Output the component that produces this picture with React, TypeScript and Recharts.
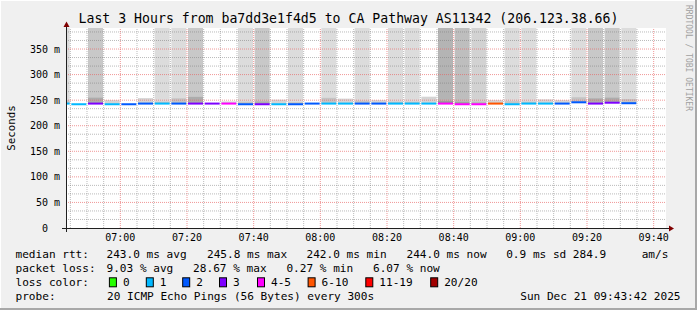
import React from 'react';
import { ComposedChart, Bar, XAxis, YAxis, Cell, ReferenceLine } from 'recharts';

// ---- data (minutes since 06:00, 5-minute smokeping intervals) ----
const intervalStartMin = [40, 45, 50, 55, 60, 65, 70, 75, 80, 85, 90, 95, 100, 105, 110, 115, 120, 125, 130, 135, 140, 145, 150, 155, 160, 165, 170, 175, 180, 185, 190, 195, 200, 205, 210];
const medianMs = [243.3, 242.0, 243.3, 242.0, 242.0, 243.3, 243.3, 243.3, 243.3, 243.3, 243.3, 242.0, 242.0, 242.0, 242.0, 243.3, 243.3, 243.3, 243.3, 243.3, 243.3, 243.3, 243.3, 243.3, 242.0, 242.0, 243.3, 242.0, 243.3, 243.3, 243.3, 245.8, 243.3, 245.0, 244.0];
const lostPings = [1, 1, 3, 1, 2, 2, 1, 2, 3, 3, 4, 2, 3, 1, 2, 2, 1, 1, 2, 2, 1, 1, 1, 5, 5, 4, 7, 1, 1, 1, 2, 2, 3, 3, 2];
const smokeTopMs = [250, 242.0, 255.5, 250, 242.0, 254, 247, 254, 257, 243.3, 247.5, 247, 248, 251, 246, 243.3, 255, 253, 249, 250, 247, 247, 256.8, 248, 247, 247, 250, 248, 247, 251.6, 250, 256, 254, 255.5, 252];
const slowPings = [2, 0, 4, 0, 0, 0, 2, 2, 4, 0, 0, 2, 4, 0, 2, 0, 2, 0, 2, 0, 2, 2, 0, 6, 5, 3, 0, 2, 2, 0, 0, 2, 4, 4, 2];

const xTickMin = [60, 80, 100, 120, 140, 160, 180, 200, 220];
const xTickLabels = ['07:00', '07:20', '07:40', '08:00', '08:20', '08:40', '09:00', '09:20', '09:40'];
const yTicks = [0, 50, 100, 150, 200, 250, 300, 350];
const yTickLabels = ['0  ', '50 m', '100 m', '150 m', '200 m', '250 m', '300 m', '350 m'];

const titleText = 'Last 3 Hours from ba7dd3e1f4d5 to CA Pathway AS11342 (206.123.38.66)';
const rttStats = ['243.0 ms avg', '245.8 ms max', '242.0 ms min', '244.0 ms now', '0.9 ms sd', '284.9', 'am/s'];
const lossStats = ['9.03 % avg', '28.67 % max', '0.27 % min', '6.07 % now'];
const lossLegendLabels = ['0', '1', '2', '3', '4-5', '6-10', '11-19', '20/20'];
const lossLegendColors = ['#26ff00', '#00b8ff', '#0059ff', '#7e00ff', '#ff00fe', '#ff5500', '#ff0000', '#a10000'];
const probeText = '20 ICMP Echo Pings (56 Bytes) every 300s';
const dateText = 'Sun Dec 21 09:43:42 2025';

// ---- layout ----
const W = 697, H = 310;
const PLOT_L = 66, PLOT_T = 28, PLOT_W = 600, PLOT_H = 200;
const T0 = 43.7, T1 = T0 + 180;
const Y_MAX = 391.1;
const BAR_PX = (5 * PLOT_W) / (T1 - T0);
const MONO = "'DejaVu Sans Mono', monospace";

const lossIndex = (n: number) => (n <= 3 ? n : n <= 5 ? 4 : n <= 10 ? 5 : n <= 19 ? 6 : 7);
// translucent grays so that the grid stays visible through the smoke
const shadeOnWhite = (g: number) => `rgba(0,0,0,${((255 - g) / 255).toFixed(3)})`;
const columnShade = (s: number) => (s > 0 ? shadeOnWhite(220 - 10 * (s - 2)) : 'transparent');
const bandShade = (s: number) => (s > 0 ? shadeOnWhite(196 - 12 * (s - 2)) : shadeOnWhite(212));

const rows = intervalStartMin.map((t, i) => ({
  mid: t + 2.5,
  base: medianMs[i],
  band: smokeTopMs[i] - medianMs[i],
  column: slowPings[i] > 0 ? Y_MAX - smokeTopMs[i] : 0,
  median: medianMs[i],
}));

const minorX: number[] = [];
for (let t = 45; t < T1; t += 5) if (!xTickMin.includes(t)) minorX.push(t);
const minorY: number[] = [];
for (let k = 1; (k * 50) / 3 < Y_MAX; k++) if (k % 3 !== 0) minorY.push((k * 50) / 3);

const MINOR = 'rgba(120,120,120,0.5)';
const MAJOR = 'rgba(232,96,96,0.65)';

const MedianShape = (p: any) => (
  <rect x={p.x} y={p.y - 1} width={p.width} height={2} fill={p.fill} />
);

const XTick = (p: any) => {
  const i = xTickMin.indexOf(p.payload.value);
  return (
    <text x={p.x} y={237.3} textAnchor="middle" dominantBaseline="central" fontFamily={MONO} fontSize={10} fill="#000">
      {i >= 0 ? xTickLabels[i] : ''}
    </text>
  );
};

const YTick = (p: any) => {
  const i = yTicks.indexOf(p.payload.value);
  return (
    <text x={60} y={p.y} textAnchor="end" dominantBaseline="central" fontFamily={MONO} fontSize={10} fill="#000" style={{ whiteSpace: 'pre' }}>
      {i >= 0 ? yTickLabels[i] : ''}
    </text>
  );
};

const rttX = [107, 207.5, 307, 407, 506.7, 573.3, 642.2];
const lossX = [107, 193.6, 286.9, 373.5];
const boxX = [108.9, 145.8, 182.2, 219, 257, 307.6, 365.3, 430.2];
const rowY = [254.7, 268.3, 282.3, 296];

export default function App() {
  return (
    <div style={{ position: 'absolute', left: 0, top: 0, width: W, height: H, background: '#f0f0f0' }}>
      <div style={{ position: 'absolute', left: PLOT_L, top: PLOT_T, width: PLOT_W, height: PLOT_H, background: '#ffffff' }} />
      <div style={{ position: 'absolute', left: 0, top: 0 }}>
        <ComposedChart width={W} height={H} data={rows} margin={{ top: PLOT_T, right: W - PLOT_L - PLOT_W, bottom: H - PLOT_T - PLOT_H - 30, left: PLOT_L - 60 }}>
          <XAxis xAxisId="t" dataKey="mid" type="number" domain={[T0, T1]} allowDataOverflow ticks={xTickMin} interval={0} tick={<XTick />} tickLine={false} axisLine={false} height={30} />
          <XAxis xAxisId="m" dataKey="mid" type="number" domain={[T0, T1]} allowDataOverflow hide />
          <YAxis yAxisId="v" type="number" domain={[0, Y_MAX]} allowDataOverflow ticks={yTicks} interval={0} width={60} tick={<YTick />} tickLine={false} axisLine={false} />
          <Bar xAxisId="t" yAxisId="v" dataKey="base" stackId="s" fill="transparent" barSize={BAR_PX} isAnimationActive={false} />
          <Bar xAxisId="t" yAxisId="v" dataKey="band" stackId="s" barSize={BAR_PX} isAnimationActive={false}>
            {rows.map((_, i) => <Cell key={i} fill={bandShade(slowPings[i])} />)}
          </Bar>
          <Bar xAxisId="t" yAxisId="v" dataKey="column" stackId="s" barSize={BAR_PX} isAnimationActive={false}>
            {rows.map((_, i) => <Cell key={i} fill={columnShade(slowPings[i])} />)}
          </Bar>
          {minorX.map((t) => (
            <ReferenceLine key={'mx' + t} xAxisId="t" yAxisId="v" x={t} stroke={MINOR} strokeDasharray="1 1" />
          ))}
          {minorY.map((v) => (
            <ReferenceLine key={'my' + v} xAxisId="t" yAxisId="v" y={v} stroke={MINOR} strokeDasharray="1 1" />
          ))}
          {xTickMin.map((t) => (
            <ReferenceLine key={'Mx' + t} xAxisId="t" yAxisId="v" x={t} stroke={MAJOR} strokeDasharray="1 1" />
          ))}
          {yTicks.filter((v) => v > 0).map((v) => (
            <ReferenceLine key={'My' + v} xAxisId="t" yAxisId="v" y={v} stroke={MAJOR} strokeDasharray="1 1" />
          ))}
          <Bar xAxisId="m" yAxisId="v" dataKey="median" barSize={BAR_PX} shape={MedianShape} isAnimationActive={false}>
            {rows.map((_, i) => <Cell key={i} fill={lossLegendColors[lossIndex(lostPings[i])]} />)}
          </Bar>
        </ComposedChart>
      </div>
      <svg width={W} height={H} style={{ position: 'absolute', left: 0, top: 0, pointerEvents: 'none' }} fontFamily={MONO}>
        {/* frame */}
        <rect x={0} y={0} width={W} height={1} fill="#ffffff" />
        <rect x={0} y={0} width={1} height={H} fill="#ffffff" />
        <rect x={0} y={H - 2} width={W} height={2} fill="#a8a8a8" />
        <rect x={W - 2} y={0} width={2} height={H} fill="#a8a8a8" />
        {/* axes */}
        <line x1={62} y1={228.5} x2={669} y2={228.5} stroke="#202020" strokeWidth={1} />
        <line x1={66.5} y1={232} x2={66.5} y2={26} stroke="#202020" strokeWidth={1} />
        <polygon points="674,228.5 669,225.5 669,231.5" fill="#800000" />
        <polygon points="66.5,21.5 63.5,27 69.5,27" fill="#800000" />
        {/* title */}
        <text x={348.5} y={18.7} textAnchor="middle" dominantBaseline="central" fontSize={13.2} fill="#000" style={{ whiteSpace: 'pre' }}>{titleText}</text>
        {/* y label */}
        <text transform="translate(11,128) rotate(-90)" textAnchor="middle" dominantBaseline="central" fontSize={10.8} fill="#000">Seconds</text>
        {/* watermark */}
        <text transform="translate(688.5,5) rotate(90)" textAnchor="start" dominantBaseline="central" fontSize={8} fill="#a0a0a0">RRDTOOL / TOBI OETIKER</text>
        {/* legend */}
        <g fontSize={11.1} fill="#000" dominantBaseline="central" style={{ whiteSpace: 'pre' }}>
          <text x={15.5} y={rowY[0]}>median rtt:</text>
          {rttStats.map((s, i) => <text key={'r' + i} x={rttX[i] - 0.5} y={rowY[0]}>{s}</text>)}
          <text x={15.5} y={rowY[1]}>packet loss:</text>
          {lossStats.map((s, i) => <text key={'l' + i} x={lossX[i] - 0.5} y={rowY[1]}>{s}</text>)}
          <text x={15.5} y={rowY[2]}>loss color:</text>
          {lossLegendLabels.map((s, i) => (
            <g key={'c' + i}>
              <rect x={boxX[i] + 0.5} y={rowY[2] - 4.5} width={7} height={9} fill={lossLegendColors[i]} stroke="#000" strokeWidth={1} />
              <text x={boxX[i] + 14} y={rowY[2]}>{s}</text>
            </g>
          ))}
          <text x={15.5} y={rowY[3]}>probe:</text>
          <text x={107} y={rowY[3]}>{probeText}</text>
          <text x={680.5} y={rowY[3]} textAnchor="end">{dateText}</text>
        </g>
      </svg>
    </div>
  );
}
